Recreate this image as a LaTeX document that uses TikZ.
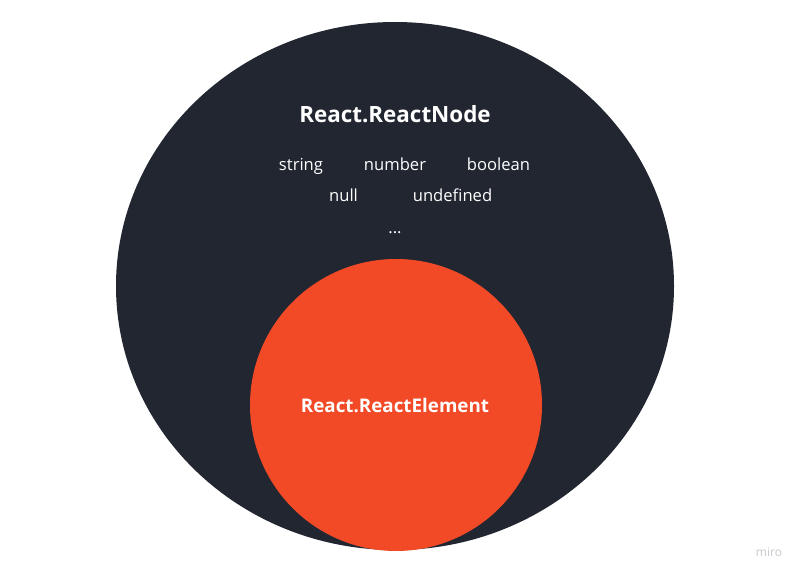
\documentclass[tikz,border=0pt]{standalone}
\usepackage{fontspec}
\setmainfont{Open Sans}
\usetikzlibrary{shapes.geometric}
\definecolor{darkbg}{HTML}{212630}
\definecolor{redfill}{HTML}{F24926}
\definecolor{miroGray}{HTML}{C8C8D0}
\begin{document}
\begin{tikzpicture}[x=1pt,y=-1pt,
  title/.style={text=white,font=\bfseries\fontsize{22.4}{24}\selectfont,inner sep=0pt,anchor=base},
  item/.style={text=white,font=\fontsize{16.6}{20}\selectfont,inner sep=0pt,anchor=base}]
\useasboundingbox (0,0) rectangle (800,575);
\fill[white] (0,0) rectangle (800,575);
\node[ellipse,fill=darkbg,minimum width=558pt,minimum height=528pt,inner sep=0pt,draw=none] (outer) at (395,286) {};
\node[circle,fill=redfill,minimum size=292pt,inner sep=0pt,draw=none] (inner) at (396,405) {};
\node[title] (node) at (395,123) {React.ReactNode};
\node[item] (string) at (301,170) {string};
\node[item] (number) at (395,170) {number};
\node[item] (boolean) at (498.5,170) {boolean};
\node[item] (null) at (343.5,201) {null};
\node[item] (undef) at (452.5,201) {undefined};
\node[item] (dots) at (395,233) {...};
\node[title,font=\bfseries\fontsize{18.8}{24}\selectfont] (elem) at (395,412) {React.ReactElement};
\node[text=miroGray,font=\fontsize{12}{14}\selectfont,inner sep=0pt,anchor=base] (miro) at (769,556) {miro};
\end{tikzpicture}
\end{document}
